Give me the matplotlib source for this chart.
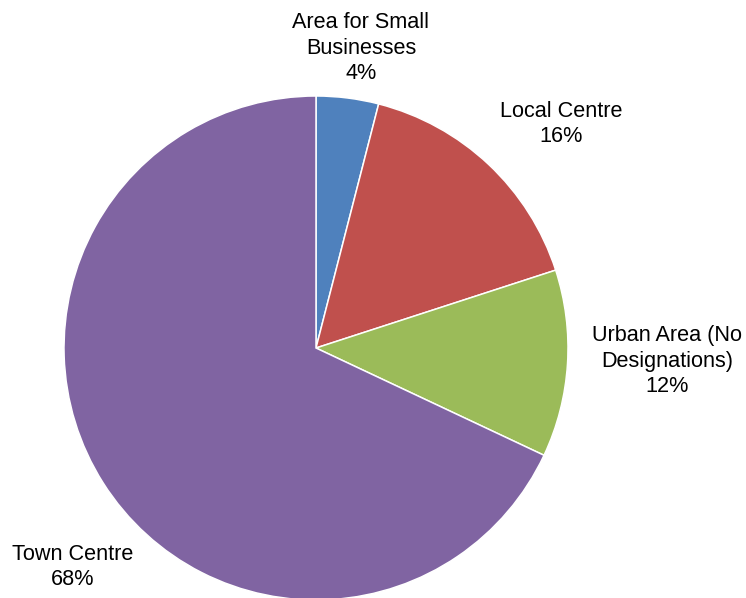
import matplotlib.pyplot as plt

plt.rcParams['font.family'] = ['Liberation Sans', 'DejaVu Sans']

# 区分ごとの割合
categories = ["Area for Small\nBusinesses", "Local Centre", "Urban Area (No\nDesignations)", "Town Centre"]
shares = [4, 16, 12, 68]
colors = ["#4F81BD", "#C0504D", "#9BBB59", "#8064A2"]

# ラベル位置 (ピクセル, 最終行のベースライン)
label_pos = [(361, 79), (561, 142), (667, 392), (73, 585)]

W, H = 746, 598
fig = plt.figure(figsize=(W / 100, H / 100), dpi=100)
ax = fig.add_axes([0, 0, 1, 1])

ax.pie(shares, colors=colors, startangle=90, counterclock=False,
       center=(316, H - 348), radius=252, frame=True,
       wedgeprops=dict(edgecolor='white', linewidth=1.1))
ax.set_xlim(0, W)
ax.set_ylim(0, H)
ax.axis('off')

for name, val, (x, y) in zip(categories, shares, label_pos):
    ax.text(x, H - y, f"{name}\n{val}%", ha='center', va='baseline',
            fontsize=15.6, color='#000000', linespacing=1.27,
            multialignment='center')

fig.savefig("out.png", dpi=100)
